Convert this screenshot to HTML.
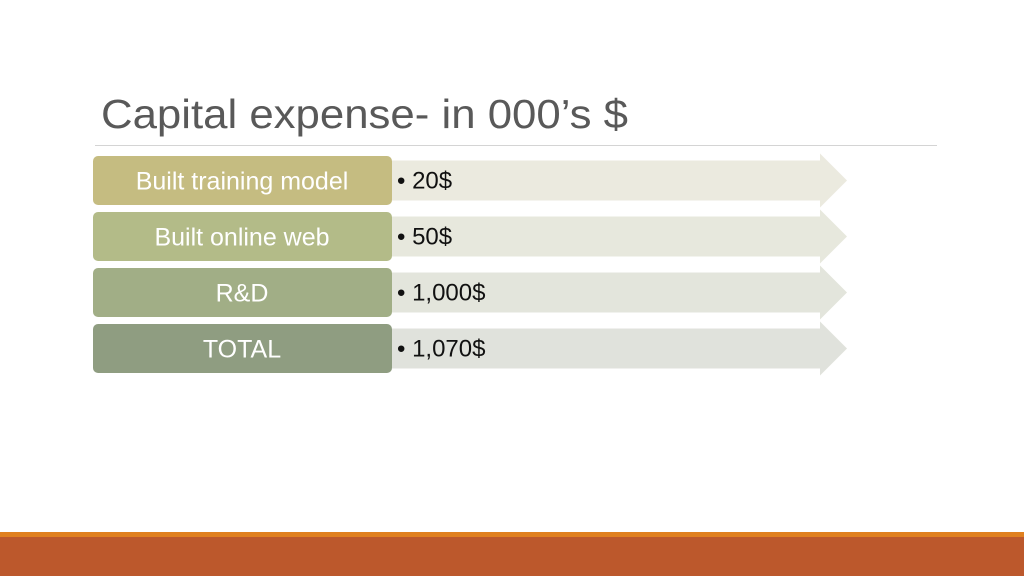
<!DOCTYPE html>
<html><head><meta charset="utf-8"><style>
html,body{margin:0;padding:0;background:#fff;}
svg{display:block;font-family:"Liberation Sans",sans-serif;}
</style></head><body>
<svg width="1024" height="576" viewBox="0 0 1024 576">
<text x="101" y="128" font-size="41" fill="#595959" font-family="Liberation Sans, sans-serif" textLength="527" lengthAdjust="spacingAndGlyphs">Capital expense- in 000’s $</text>
<line x1="95" y1="145.5" x2="937" y2="145.5" stroke="#d4d4d4" stroke-width="1"/>
<g id="rows"></g>
<rect x="0" y="532" width="1024" height="5" fill="#e0801f"/>
<rect x="0" y="537" width="1024" height="39" fill="#bc582c"/>
</svg>
<script>
const labels=["Built training model","Built online web","R&D","TOTAL"];
const values=["20$","50$","1,000$","1,070$"];
const boxColors=["#c5bc81","#b3bb88","#a1ae86","#8f9d81"];
const arrowColors=["#ebeadf","#e7e8dd","#e3e5dc","#e0e2dc"];
const g=document.getElementById('rows');
const NS="http://www.w3.org/2000/svg";
labels.forEach((lab,i)=>{
  const y=156+i*56, h=49, mid=y+h/2;
  const a=document.createElementNS(NS,'polygon');
  a.setAttribute('points',`392,${mid-20} 820,${mid-20} 820,${mid-27} 847,${mid} 820,${mid+27} 820,${mid+20} 392,${mid+20}`);
  a.setAttribute('fill',arrowColors[i]);
  
  
  g.appendChild(a);
  const r=document.createElementNS(NS,'rect');
  r.setAttribute('x',93);r.setAttribute('y',y);r.setAttribute('width',299);r.setAttribute('height',h);r.setAttribute('rx',5);
  r.setAttribute('fill',boxColors[i]);
  
  
  g.appendChild(r);
  const t=document.createElementNS(NS,'text');
  t.setAttribute('x',242);t.setAttribute('y',mid+9);t.setAttribute('text-anchor','middle');
  t.setAttribute('font-size','25');t.setAttribute('fill','#fff');
  t.textContent=lab;
  
  
  g.appendChild(t);
  const v=document.createElementNS(NS,'text');
  v.setAttribute('x',397);v.setAttribute('y',mid+8);
  v.setAttribute('font-size','24');v.setAttribute('fill','#111');
  v.textContent="• "+values[i];
  
  
  g.appendChild(v);
});
</script>
</body></html>
